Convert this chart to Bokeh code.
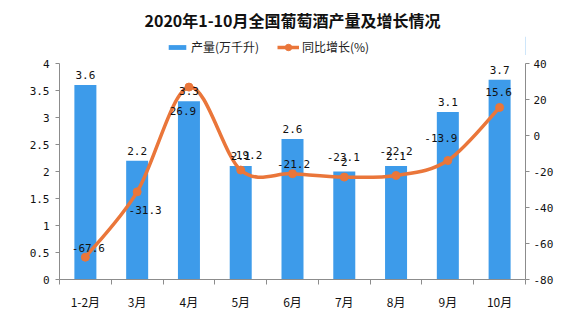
from bokeh.plotting import figure
from bokeh.layouts import column
from bokeh.models import (Range1d, LinearAxis, FixedTicker, ColumnDataSource,
                          Legend, LegendItem)
from bokeh.embed import file_html
from bokeh.resources import INLINE

# Monthly wine output (10k kL) and year-on-year growth (%)
months = ["1-2月", "3月", "4月", "5月", "6月", "7月", "8月", "9月", "10月"]
output = [3.6, 2.2, 3.3, 2.1, 2.6, 2.0, 2.1, 3.1, 3.7]
output_labels = ["3.6", "2.2", "3.3", "2.1", "2.6", "2", "2.1", "3.1", "3.7"]
growth = [-67.6, -31.3, 26.9, -19.2, -21.2, -23.1, -22.2, -13.9, 15.6]
left_ticks = [0, 0.5, 1, 1.5, 2, 2.5, 3, 3.5, 4]
right_ticks = [-80, -60, -40, -20, 0, 20, 40]

BLUE = "#3D9BEA"
ORANGE = "#EA763A"
NUM_FONT = "DejaVu Sans Mono"
CJK_FONT = "Noto Sans CJK SC"

n = len(months)
xc = [i + 0.5 for i in range(n)]

# ---- header: title + legend ----
head = figure(width=573, height=55, x_range=Range1d(0, 1), y_range=Range1d(0, 1),
              output_backend="svg", toolbar_location=None,
              x_axis_location=None, y_axis_location=None,
              min_border_left=0, min_border_right=0, min_border_bottom=0,
              min_border_top=32)
head.outline_line_color = None
head.xgrid.visible = False
head.ygrid.visible = False
head.title.text = "2020年1-10月全国葡萄酒产量及增长情况"
head.title.align = "center"
head.title.text_font = CJK_FONT
head.title.text_font_size = "16px"
head.title.text_font_style = "bold"
head.title.text_color = "#111111"

# key glyphs sit outside the header's visible range; only their legend swatches show
key_bar = head.vbar(x=[5], top=[1], width=0.5, color=BLUE, line_color=None)
key_line = head.line(x=[5, 6], y=[5, 5], line_color=ORANGE, line_width=3.5)
key_dot = head.scatter(x=[5], y=[5], size=8, color=ORANGE)

legend_style = dict(orientation="horizontal", glyph_width=22, label_standoff=3,
                    label_text_font=CJK_FONT, label_text_font_size="12px",
                    label_text_color="#222222", border_line_color=None,
                    background_fill_alpha=0, padding=0, margin=0)
leg1 = Legend(items=[LegendItem(label="产量(万千升)", renderers=[key_bar])],
              location=(107, 0), glyph_height=6, **legend_style)
leg2 = Legend(items=[LegendItem(label="同比增长(%)", renderers=[key_line, key_dot])],
              location=(218, 0), glyph_height=16, **legend_style)
head.add_layout(leg1, "center")
head.add_layout(leg2, "center")

# ---- main chart ----
p = figure(width=573, height=266, x_range=Range1d(0, n), y_range=Range1d(0, 4),
           output_backend="svg", toolbar_location=None,
           min_border_left=59, min_border_right=48, min_border_top=8,
           min_border_bottom=42)
p.outline_line_color = None
p.xgrid.visible = False
p.ygrid.visible = False
p.background_fill_color = "white"
p.border_fill_color = "white"

p.extra_y_ranges = {"pct": Range1d(-80, 40)}

# bars
p.vbar(x=xc, top=output, width=0.425, color=BLUE, line_color=None)

# smooth growth curve as cubic Bezier segments (Catmull-Rom style handles)
def handles(vals):
    m = len(vals)
    c0, c1 = [], []
    for i in range(m - 1):
        prev = vals[i - 1] if i > 0 else vals[i]
        nxt2 = vals[i + 2] if i + 2 < m else vals[i + 1]
        c0.append(vals[i] + (vals[i + 1] - prev) / 6.0)
        c1.append(vals[i + 1] - (nxt2 - vals[i]) / 6.0)
    return c0, c1

cx0, cx1 = handles(xc)
cy0, cy1 = handles(growth)
seg = ColumnDataSource(dict(x0=xc[:-1], y0=growth[:-1], x1=xc[1:], y1=growth[1:],
                            cx0=cx0, cy0=cy0, cx1=cx1, cy1=cy1))
p.bezier(x0="x0", y0="y0", x1="x1", y1="y1", cx0="cx0", cy0="cy0",
         cx1="cx1", cy1="cy1", source=seg, line_color=ORANGE, line_width=3.5,
         line_cap="round", y_range_name="pct")
p.scatter(xc, growth, size=8, color=ORANGE, y_range_name="pct")

# value labels
p.text(x=xc, y=output, text=output_labels, text_align="center",
       text_baseline="middle", y_offset=-10, text_font_size="11px",
       text_color="#111111", text_font={"value": NUM_FONT})

growth_labels = [f"{v:g}" for v in growth]
lx_off = [3, 8, -6, 5, 1, -1, 0, -7, -1]
ly_off = [-9, 18, 24, -15, -10, -20, -24, -23, -15]
p.text(x=xc, y=growth, text=growth_labels, text_align="center",
       text_baseline="middle", x_offset=lx_off, y_offset=ly_off,
       text_font_size="11px", text_color="#111111",
       text_font={"value": NUM_FONT}, y_range_name="pct")

# axes
AX = "#8C8C8C"
xa = p.xaxis[0]
xa.ticker = FixedTicker(ticks=xc, minor_ticks=list(range(n + 1)))
xa.major_label_overrides = {x: m for x, m in zip(xc, months)}
xa.major_tick_out = 0
xa.major_tick_in = 0
xa.minor_tick_out = 5
xa.minor_tick_in = 0
xa.minor_tick_line_color = AX
xa.axis_line_color = AX
xa.major_label_text_font = CJK_FONT
xa.major_label_text_font_size = "12px"
xa.major_label_text_color = "#111111"
xa.major_label_standoff = 8

ya = p.yaxis[0]
ya.ticker = FixedTicker(ticks=left_ticks)
ya.major_label_overrides = {t: f"{t:g}" for t in left_ticks}
ya.major_tick_out = 4
ya.major_tick_in = 0
ya.minor_tick_out = 0
ya.minor_tick_in = 0
ya.axis_line_color = AX
ya.major_tick_line_color = AX
ya.major_label_text_font = NUM_FONT
ya.major_label_text_font_size = "11px"
ya.major_label_text_color = "#111111"
ya.major_label_standoff = 6

ra = LinearAxis(y_range_name="pct", ticker=FixedTicker(ticks=right_ticks))
ra.major_label_overrides = {t: str(t) for t in right_ticks}
ra.major_tick_out = 4
ra.major_tick_in = 0
ra.minor_tick_out = 0
ra.minor_tick_in = 0
ra.axis_line_color = AX
ra.major_tick_line_color = AX
ra.major_label_text_font = NUM_FONT
ra.major_label_text_font_size = "11px"
ra.major_label_text_color = "#111111"
ra.major_label_standoff = 4
p.add_layout(ra, "right")

layout = column(head, p, spacing=0)
open("out.html", "w").write(file_html(layout, INLINE))
